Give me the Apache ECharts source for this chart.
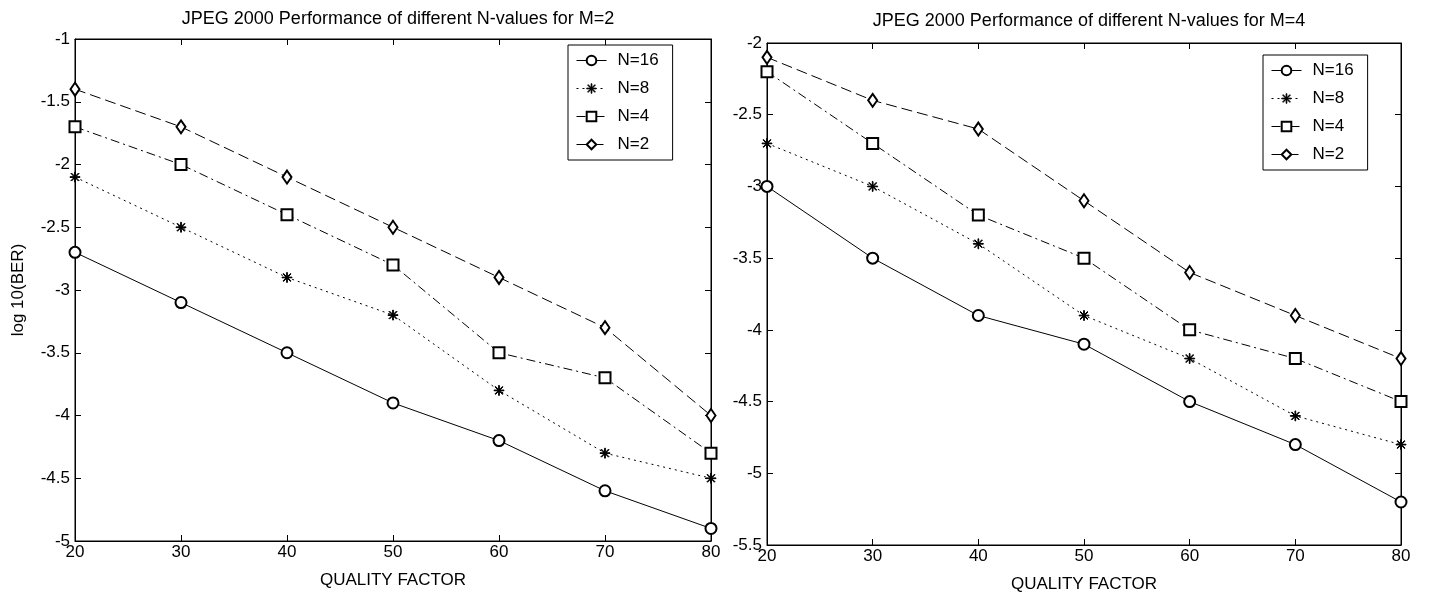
<!DOCTYPE html>
<html>
<head>
<meta charset="utf-8">
<script src="https://cdn.jsdelivr.net/npm/echarts@6/dist/echarts.min.js"></script>
<style>
html,body{margin:0;padding:0;background:#fff;}
#c{width:1429px;height:599px;}
</style>
</head>
<body>
<div id="c"></div>
<script>
const xCategories = [20, 30, 40, 50, 60, 70, 80];
const seriesNames = ['N=16', 'N=8', 'N=4', 'N=2'];
const xTicks = [20, 30, 40, 50, 60, 70, 80];

// Left chart: M=2
const m2_N16 = [-2.7, -3.1, -3.5, -3.9, -4.2, -4.6, -4.9];
const m2_N8  = [-2.1, -2.5, -2.9, -3.2, -3.8, -4.3, -4.5];
const m2_N4  = [-1.7, -2.0, -2.4, -2.8, -3.5, -3.7, -4.3];
const m2_N2  = [-1.4, -1.7, -2.1, -2.5, -2.9, -3.3, -4.0];

// Right chart: M=4
const m4_N16 = [-3.0, -3.5, -3.9, -4.1, -4.5, -4.8, -5.2];
const m4_N8  = [-2.7, -3.0, -3.4, -3.9, -4.2, -4.6, -4.8];
const m4_N4  = [-2.2, -2.7, -3.2, -3.5, -4.0, -4.2, -4.5];
const m4_N2  = [-2.1, -2.4, -2.6, -3.1, -3.6, -3.9, -4.2];

const leftYTicks = [-5, -4.5, -4, -3.5, -3, -2.5, -2, -1.5, -1];
const rightYTicks = [-5.5, -5, -4.5, -4, -3.5, -3, -2.5, -2];

const FONT = '"Liberation Sans Narrow", "Liberation Sans", Arial, sans-serif';

const asterisk = 'path://M4.65,0 L5.35,0 L5.35,10 L4.65,10 Z M0,4.65 L10,4.65 L10,5.35 L0,5.35 Z ' +
  'M1.5,1.0 L1.0,1.5 L8.5,9.0 L9.0,8.5 Z M8.5,1.0 L9.0,1.5 L1.5,9.0 L1.0,8.5 Z';

const styles = {
  'N=16': {symbol: 'emptyCircle', symbolSize: 11, type: 'solid'},
  'N=8':  {symbol: asterisk, symbolSize: 10, type: [2, 4]},
  'N=4':  {symbol: 'emptyRect', symbolSize: 11, type: [9, 4, 2, 4]},
  'N=2':  {symbol: 'emptyDiamond', symbolSize: [9, 13], type: [11, 5]}
};

function mkSeries(name, data, idx) {
  const s = styles[name];
  return {
    name: name,
    type: 'line',
    xAxisIndex: idx * 2,
    yAxisIndex: idx * 2,
    data: data.map((v, i) => [xCategories[i], v]),
    symbol: s.symbol,
    symbolSize: s.symbolSize,
    showAllSymbol: true,
    color: '#000',
    itemStyle: {color: '#000', borderColor: '#000', borderWidth: 1},
    lineStyle: {color: '#000', width: 1, type: s.type},
    emphasis: {disabled: true},
    animation: false,
    z: 3
  };
}

function xAxes(gridIndex) {
  const base = {
    type: 'value', gridIndex: gridIndex, min: 20, max: 80, interval: 10,
    splitLine: {show: false},
    axisLine: {show: true, lineStyle: {color: '#000', width: 1}},
    axisTick: {show: true, inside: true, length: 6, lineStyle: {color: '#000'}}
  };
  return [
    Object.assign({}, base, {
      position: 'bottom',
      name: 'QUALITY FACTOR', nameLocation: 'middle', nameGap: 31,
      nameTextStyle: {fontFamily: FONT, fontSize: 17, color: '#000'},
      axisLabel: {fontFamily: FONT, fontSize: 17, color: '#000', margin: 3}
    }),
    Object.assign({}, base, {position: 'top', axisLabel: {show: false}})
  ];
}

function yAxes(gridIndex, min, max, withName) {
  const base = {
    type: 'value', gridIndex: gridIndex, min: min, max: max, interval: 0.5,
    splitLine: {show: false},
    axisLine: {show: true, lineStyle: {color: '#000', width: 1}},
    axisTick: {show: true, inside: true, length: 6, lineStyle: {color: '#000'}}
  };
  const left = Object.assign({}, base, {
    position: 'left',
    axisLabel: {fontFamily: FONT, fontSize: 17, color: '#000', margin: 5}
  });
  if (withName) {
    Object.assign(left, {
      name: 'log 10(BER)', nameLocation: 'middle', nameGap: 48,
      nameTextStyle: {fontFamily: FONT, fontSize: 17, color: '#000'}
    });
  }
  return [left, Object.assign({}, base, {position: 'right', axisLabel: {show: false}})];
}

const legendCommon = {
  orient: 'vertical',
  data: seriesNames,
  backgroundColor: '#fff',
  borderColor: '#000',
  borderWidth: 1,
  padding: [7, 14, 7, 8],
  itemWidth: 30,
  itemHeight: 12,
  itemGap: 11,
  selectedMode: false,
  lineStyle: {width: 1},
  itemStyle: {borderWidth: 1},
  textStyle: {fontFamily: FONT, fontSize: 17, color: '#000', padding: [0, 0, 0, 6]}
};

const chart = echarts.init(document.getElementById('c'), null, {renderer: 'canvas'});
chart.setOption({
  animation: false,
  backgroundColor: '#fff',
  title: [
    {text: 'JPEG 2000 Performance of different N-values for M=2', left: 393, top: 5, textAlign: 'center',
     textStyle: {fontFamily: FONT, fontSize: 18, fontWeight: 'normal', color: '#000'}},
    {text: 'JPEG 2000 Performance of different N-values for M=4', left: 1084, top: 7, textAlign: 'center',
     textStyle: {fontFamily: FONT, fontSize: 18, fontWeight: 'normal', color: '#000'}}
  ],
  grid: [
    {left: 75, right: 718, top: 39, bottom: 58, show: true, borderColor: '#000', borderWidth: 1, backgroundColor: '#fff'},
    {left: 767, right: 28, top: 43, bottom: 54, show: true, borderColor: '#000', borderWidth: 1, backgroundColor: '#fff'}
  ],
  xAxis: [].concat(xAxes(0), xAxes(1)),
  yAxis: [].concat(yAxes(0, -5, -1, true), yAxes(1, -5.5, -2, false)),
  legend: [
    Object.assign({}, legendCommon, {left: 568, top: 45}),
    Object.assign({}, legendCommon, {left: 1263, top: 55})
  ],
  series: [
    mkSeries('N=16', m2_N16, 0), mkSeries('N=8', m2_N8, 0), mkSeries('N=4', m2_N4, 0), mkSeries('N=2', m2_N2, 0),
    mkSeries('N=16', m4_N16, 1), mkSeries('N=8', m4_N8, 1), mkSeries('N=4', m4_N4, 1), mkSeries('N=2', m4_N2, 1)
  ]
});
</script>
</body>
</html>
